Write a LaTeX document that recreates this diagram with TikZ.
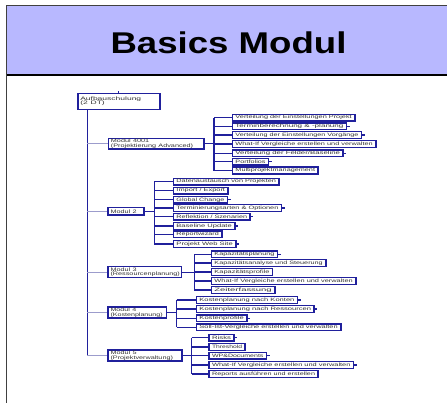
\documentclass[tikz,border=0pt]{standalone}
\usepackage{fontspec}
\setmainfont{Liberation Sans}
\usepackage{graphicx}
\definecolor{hdr}{HTML}{B8B8FF}
\definecolor{navy}{HTML}{20209C}
\definecolor{lite}{HTML}{9C9CCC}
\newcommand\fitw[2]{\resizebox{#1bp}{\height}{#2}}
\newcommand\hs[2]{\scalebox{#1}[1]{#2}}
\tikzset{
  leaf/.style={draw=navy, line width=1.5bp, fill=white, inner xsep=3bp, inner ysep=0pt,
    minimum height=6.8bp, anchor=west, text=black!80, font=\fontsize{4.8bp}{4.8bp}\selectfont},
  modbox/.style={draw=navy, line width=1.5bp, fill=white, inner xsep=2.5bp, inner ysep=0.6bp,
    anchor=west, align=left, text=black!80, font=\fontsize{5bp}{4.4bp}\selectfont},
  bus/.style={draw=navy, line width=1.3bp},
  branch/.style={draw=lite, line width=1.3bp},
  trunk/.style={draw=navy, line width=1.3bp},
}
\begin{document}
\begin{tikzpicture}[x=1bp, y=-1bp]
\useasboundingbox (0,0) rectangle (447,403);
% header
\fill[hdr] (6.5,5.5) rectangle (447,74.5);
\draw[line width=1.6bp, black!75] (447,5.5) -- (6.5,5.5) -- (6.5,403);
\draw[line width=2bp] (6.5,74.5) -- (447,74.5);
\node[font=\fontsize{30bp}{36bp}\selectfont\bfseries, anchor=base, inner sep=0pt] (title) at (228.5,53.3) {\hs{1.22}{Basics Modul}};

% root and modules
\node[modbox, text width=77bp, minimum height=16bp, font=\fontsize{5bp}{4.7bp}\selectfont] (root) at (77,101.3) {\hs{1.7}{Aufbauschulung}\\\hs{1.7}{(2 DT)}};
\node[modbox, text width=90.6bp, minimum height=10.7bp] (m1) at (107.7,143.7) {\hs{1.45}{Modul 4001}\\\hs{1.45}{(Projektierung Advanced)}};
\node[modbox, text width=31bp, minimum height=7.3bp] (m2) at (107.3,211.3) {\hs{1.45}{Modul 2}};
\node[modbox, text width=68.4bp, minimum height=11bp] (m3) at (107.3,272.2) {\hs{1.45}{Modul 3}\\\hs{1.45}{(Ressourcenplanung)}};
\node[modbox, text width=53.4bp, minimum height=11bp] (m4) at (107.3,312.7) {\hs{1.42}{Modul 4}\\\hs{1.42}{(Kostenplanung)}};
\node[modbox, text width=68.7bp, minimum height=11bp] (m5) at (107.3,355.5) {\hs{1.45}{Modul 5}\\\hs{1.45}{(Projektverwaltung)}};

% Modul 4001 leaves
\node[leaf] (l11) at (231.7,117.7) {\fitw{116.3}{Verteilung der Einstellungen Projekt}};
\node[leaf] (l12) at (231.7,126.2) {\fitw{108}{Terminberechnung \& -planung}};
\node[leaf] (l13) at (231.7,135) {\fitw{123}{Verteilung der Einstellungen Vorgänge}};
\node[leaf] (l14) at (231.7,144) {\fitw{137.3}{What-If Vergleiche erstellen und verwalten}};
\node[leaf] (l15) at (231.7,153.3) {\fitw{104.6}{Verteilung der Felder/Baseline}};
\node[leaf] (l16) at (231.7,161.8) {\fitw{30}{Portfolios}};
\node[leaf] (l17) at (231.7,170.5) {\fitw{79.6}{Multiprojektmanagement}};
% Modul 2 leaves
\node[leaf] (l21) at (172.7,181.7) {\fitw{99.6}{Datenaustausch von Projekten}};
\node[leaf] (l22) at (172.7,190.7) {\fitw{48.6}{Import / Export}};
\node[leaf] (l23) at (172.7,199.8) {\fitw{48}{Global Change}};
\node[leaf] (l24) at (172.7,208) {\fitw{102}{Terminierungsarten \& Optionen}};
\node[leaf] (l25) at (172.7,216.7) {\fitw{70.6}{Reflektion / Szenarien}};
\node[leaf] (l26) at (172.7,226) {\fitw{55.3}{Baseline Update}};
\node[leaf] (l27) at (172.7,234.3) {\fitw{42.3}{Reportwizard}};
\node[leaf] (l28) at (172.7,244) {\fitw{56.3}{Projekt Web Site}};
% Modul 3 leaves
\node[leaf] (l31) at (210.7,254.3) {\fitw{60}{Kapazitätsplanung}};
\node[leaf] (l32) at (210.7,263) {\fitw{108.3}{Kapazitätsanalyse und Steuerung}};
\node[leaf] (l33) at (210.7,272) {\fitw{55}{Kapazitätsprofile}};
\node[leaf] (l34) at (210.7,281) {\fitw{138.3}{What-If Vergleiche erstellen und verwalten}};
\node[leaf] (l35) at (210.7,290) {\fitw{57.3}{Zeiterfassung}};
% Modul 4 leaves
\node[leaf] (l41) at (195.7,300) {\fitw{95}{Kostenplanung nach Konten}};
\node[leaf] (l42) at (195.7,309) {\fitw{111.6}{Kostenplanung nach Ressourcen}};
\node[leaf] (l43) at (195.7,318.3) {\fitw{44.3}{Kostenprofile}};
\node[leaf] (l44) at (195.7,327.3) {\fitw{138.3}{Soll-Ist-Vergleiche erstellen und verwalten}};
% Modul 5 leaves
\node[leaf] (l51) at (208.3,337.7) {\fitw{19}{Risks}};
\node[leaf] (l52) at (208.3,347) {\fitw{30}{Threshold}};
\node[leaf] (l53) at (208.3,355.8) {\fitw{51.4}{WP\&Documents}};
\node[leaf] (l54) at (208.3,365) {\fitw{138.4}{What-If Vergleiche erstellen und verwalten}};
\node[leaf] (l55) at (208.3,374) {\fitw{103}{Reports ausführen und erstellen}};

% trunk
\coordinate (t0) at (87.3,109.3);
\draw[trunk] (t0) -- (t0 |- m5.west);
\foreach \m in {m1,m2,m3,m4,m5} \draw[branch] (t0 |- \m.west) -- (\m.west);
\draw[bus] (root.north) -- ++(0,-1.5);

% buses
\coordinate (b1) at (214,143.7);
\coordinate (b2) at (154.3,211.3);
\coordinate (b3) at (194.3,272.2);
\coordinate (b4) at (176.7,312.7);
\coordinate (b5) at (191.7,355.5);
\draw[bus] (m1.east) -- (b1);
\draw[bus] (m2.east) -- (b2);
\draw[bus] (m3.east) -- (b3);
\draw[bus] (m4.east) -- (b4);
\draw[bus] (m5.east) -- (b5);
\draw[bus] (b1 |- l11.west) -- (b1 |- l17.west);
\draw[bus] (b2 |- l21.west) -- (b2 |- l28.west);
\draw[bus] (b3 |- l31.west) -- (b3 |- l35.west);
\draw[bus] (b4 |- l41.west) -- (b4 |- l44.west);
\draw[bus] (b5 |- l51.west) -- (b5 |- l55.west);
\foreach \n in {l11,l12,l13,l14,l15,l16,l17} \draw[bus] (b1 |- \n.west) -- (\n.west);
\foreach \n in {l21,l22,l23,l24,l25,l26,l27,l28} \draw[bus] (b2 |- \n.west) -- (\n.west);
\foreach \n in {l31,l32,l33,l34,l35} \draw[bus] (b3 |- \n.west) -- (\n.west);
\foreach \n in {l41,l42,l43,l44} \draw[bus] (b4 |- \n.west) -- (\n.west);
\foreach \n in {l51,l52,l53,l54,l55} \draw[bus] (b5 |- \n.west) -- (\n.west);
% small stubs at right of some boxes
\foreach \n in {l12,l13,l15,l16,l23,l24,l25,l26,l28,l31,l41,l42,l43,l51,l53,l54} \draw[bus] (\n.east) -- ++(2.5,0);
\end{tikzpicture}
\end{document}
